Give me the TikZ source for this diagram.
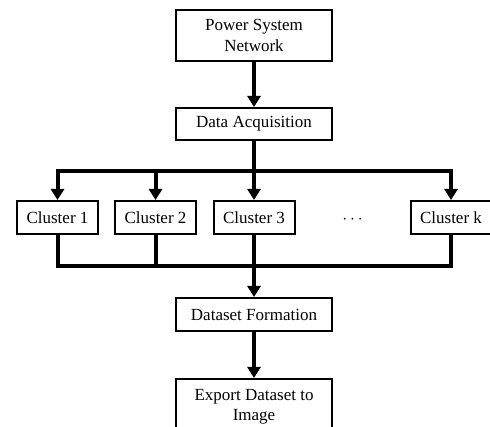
\documentclass[tikz,border=0pt]{standalone}
\usepackage{fontspec}
\setmainfont{Liberation Serif}
\usetikzlibrary{arrows.meta}

\begin{document}
\begin{tikzpicture}[x=1pt,y=-1pt,font=\fontsize{17}{20.5}\selectfont]
	\tikzstyle{mybox}=[draw,line width=2pt,inner sep=0pt,align=center,minimum width=156]
	\tikzstyle{myline}=[line width=4pt]
	\tikzstyle{myarrow}=[line width=4pt,-{Triangle[width=13pt,length=11pt]}]

	\useasboundingbox (0,0) rectangle (490,427);
%	\draw[help lines,step=10] (0,0) grid (490,427);

	\node[mybox,minimum height=51] (psn) at (254,35.5) {Power System\\Network};
	\node[mybox,minimum height=32] (daq) at (254,124) {Data Acquisition};

	\foreach \n / \x in {1/57.5,2/155.5,3/254,k/451} {\node[mybox,minimum width=81,minimum height=33] (c\n) at (\x,217.5) {Cluster \n};}
	\node (dots) at (352.5,220) {$\cdots$};

	\node[mybox,minimum height=33] (dsf) at (254,314.5) {Dataset Formation};
	\node[mybox,minimum height=56,anchor=north] (exp) at (254,378) {Export Dataset to\\Image};

	\coordinate (topbus) at (0,171);
	\coordinate (botbus) at (0,266);

	\draw[myarrow] (psn.south) -- (daq.north);
	\foreach \n in {1,2,3,k} {\draw[myarrow] (daq.south) -- (daq.south |- topbus) -| (c\n.north);}

	\foreach \n in {1,2,k} {\draw[myline] (c\n.south) |- (c3.south |- botbus);}
	\draw[myarrow] (c3.south) -- (dsf.north);
	\draw[myarrow] (dsf.south) -- (exp.north);
\end{tikzpicture}
\end{document}
